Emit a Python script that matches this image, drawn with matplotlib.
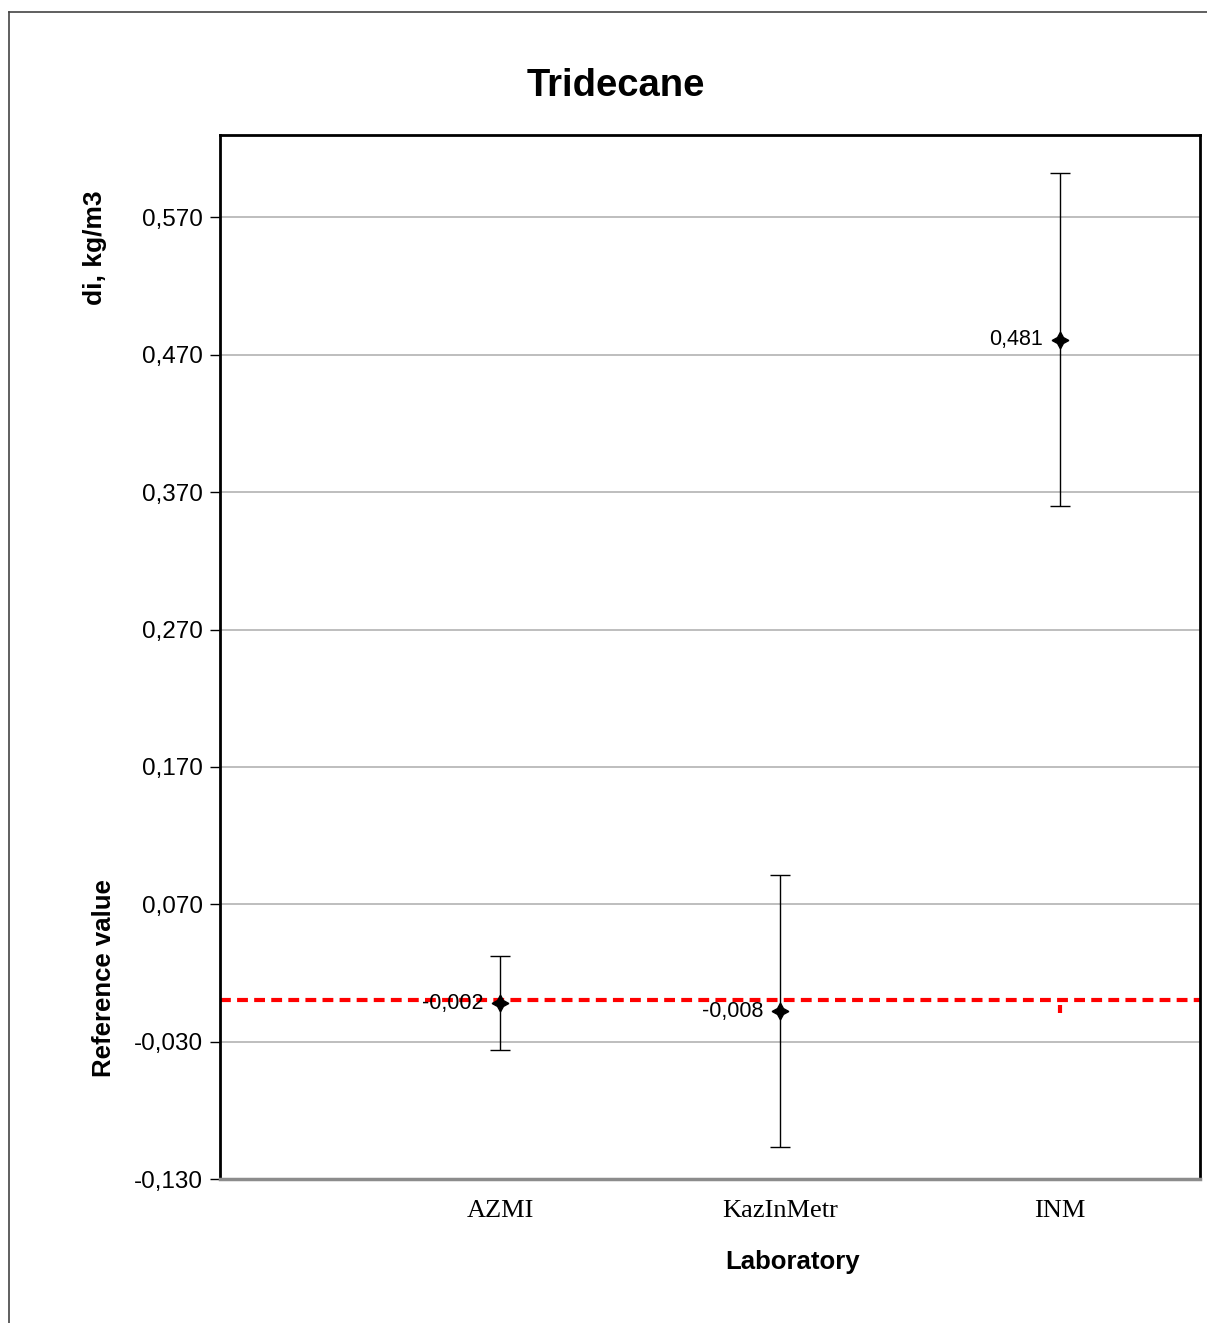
import matplotlib.pyplot as plt
from matplotlib.lines import Line2D
from matplotlib.ticker import FixedLocator, FuncFormatter

labs = ["AZMI", "KazInMetr", "INM"]
di = [-0.002, -0.008, 0.481]
unc = [0.034, 0.099, 0.121]
ref_value = 0.0
yticks = [-0.130, -0.030, 0.070, 0.170, 0.270, 0.370, 0.470, 0.570]

sans = ["Liberation Sans", "DejaVu Sans"]
serif = ["Liberation Serif", "DejaVu Serif"]
plt.rcParams["font.family"] = sans

fig = plt.figure(figsize=(12.07, 13.23), dpi=100)
ax = fig.add_axes([0.1823, 0.1088, 0.9942 - 0.1823, 0.898 - 0.1088])

x = [i + 1 for i in range(len(labs))]

# reference line
ax.axhline(ref_value, color="red", lw=3, dashes=(2.6, 1.5), zorder=2)
ax.plot([x[2]], [ref_value - 0.006], marker="|", color="red", ms=6, mew=3, zorder=2)

ax.errorbar(x, di, yerr=unc, fmt="none", ecolor="black", elinewidth=1,
            capsize=7, capthick=1, zorder=3)
ax.plot(x, di, linestyle="none", marker=(4, 1, 0), ms=12, color="black", zorder=4)

for xi, yi in zip(x, di):
    ax.annotate(f"{yi:.3f}".replace(".", ","), (xi, yi), xytext=(-12, 0),
                textcoords="offset points", ha="right", va="center", fontsize=15.5)

ax.set_xlim(0, 3.5)
ax.set_ylim(-0.13, 0.63)
ax.yaxis.set_major_locator(FixedLocator(yticks))
ax.yaxis.set_major_formatter(FuncFormatter(lambda v, p: f"{v:.3f}".replace(".", ",")))
ax.grid(axis="y", color="#b3b3b3", lw=1.2, zorder=0)
ax.set_axisbelow(True)

ax.set_xticks(x)
ax.set_xticklabels(labs, fontfamily=serif, fontsize=19)
ax.tick_params(axis="x", length=0, pad=15)
ax.tick_params(axis="y", length=7, width=1, labelsize=17.5, pad=5)

for s in ["left", "top", "right"]:
    ax.spines[s].set_linewidth(2)
    ax.spines[s].set_color("black")
ax.spines["bottom"].set_linewidth(2.5)
ax.spines["bottom"].set_color("#8c8c8c")

fig.text(616 / 1207, 1 - 86 / 1323, "Tridecane", ha="center", va="center",
         fontsize=27.5, fontweight="bold")
fig.text(793 / 1207, 1 - 1262 / 1323, "Laboratory", ha="center", va="center",
         fontsize=18.5, fontweight="bold")
fig.text(95 / 1207, 1 - 248 / 1323, "di, kg/m3", ha="center", va="center",
         rotation=90, fontsize=19, fontweight="bold")
fig.text(104 / 1207, 1 - 978 / 1323, "Reference value", ha="center", va="center",
         rotation=90, fontsize=18.5, fontweight="bold")

# outer chart border
fx = 8.5 / 1207
fy = 1 - 11.5 / 1323
fig.add_artist(Line2D([fx, fx], [0, fy], color="#444444", lw=1.2))
fig.add_artist(Line2D([fx, 1], [fy, fy], color="#444444", lw=1.2))

fig.savefig("out.png", dpi=100)
